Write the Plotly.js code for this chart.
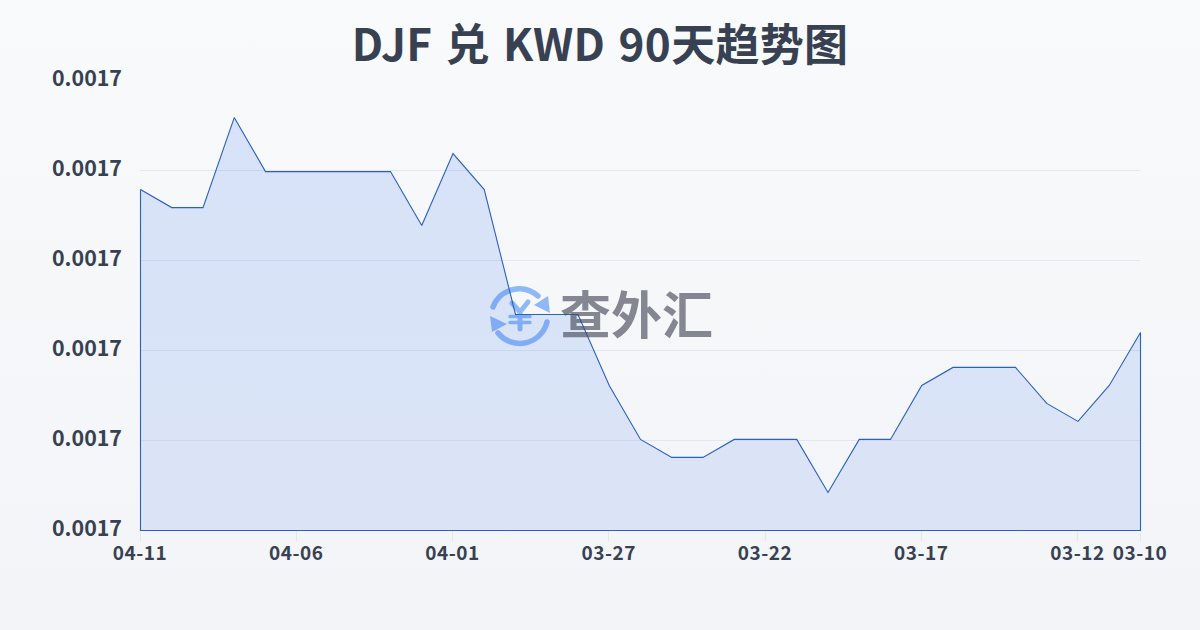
<!DOCTYPE html>
<html>
<head>
<meta charset="utf-8">
<script src="https://cdn.plot.ly/plotly-3.0.1.min.js"></script>
<style>
html,body{margin:0;padding:0;width:1200px;height:630px;overflow:hidden;background:linear-gradient(180deg,#f8fafc 0%,#f2f4f7 100%);}
#c{width:1200px;height:630px;}
.scatterlayer{transform:translate(.5px,.5px);}
#c svg *{clip-path:none !important;}
.xtick text{letter-spacing:.55px;}
.yaxislayer-above{transform:translateY(-1.5px);}
.gtitle{word-spacing:3px;letter-spacing:.3px;}
</style>
</head>
<body>
<div id="c"></div>
<script>
const dates = ["04-11","04-10","04-09","04-08","04-07","04-06","04-05","04-04","04-03","04-02","04-01","03-31","03-30","03-29","03-28","03-27","03-26","03-25","03-24","03-23","03-22","03-21","03-20","03-19","03-18","03-17","03-16","03-15","03-14","03-13","03-12","03-11","03-10"];
const rates = [0.00168894,0.00168794,0.00168794,0.00169294,0.00168994,0.00168994,0.00168994,0.00168994,0.00168994,0.00168694,0.00169094,0.00168894,0.00168200,0.00168200,0.00168200,0.00167806,0.00167506,0.00167406,0.00167406,0.00167506,0.00167506,0.00167506,0.00167211,0.00167506,0.00167506,0.00167806,0.00167906,0.00167906,0.00167906,0.00167706,0.00167606,0.00167806,0.00168100];
const xTicks = ["04-11","04-06","04-01","03-27","03-22","03-17","03-12","03-10"];
const yMin = 0.00167, yMax = 0.001695, yStep = 0.000005;
const titleText = "DJF 兑 KWD 90天趋势图";
const watermark = "查外汇";

const FONT = '"Noto Sans CJK SC",sans-serif';
const logo = `<svg xmlns="http://www.w3.org/2000/svg" width="64" height="64" viewBox="0 0 64 64"><g fill="none" stroke="#8fb8f7" stroke-width="5.5" stroke-linecap="round" stroke-linejoin="round"><path d="M5 24A28 28 0 0 1 50 13"/><path d="M59 39A28 28 0 0 1 10 50"/><path d="M24 20L32 29L40 19M32 29V46" stroke-width="5"/><path d="M22 33.5H42M22 39.5H42" stroke-width="3.5"/></g><path d="M60 13L62 30L46 22Z" fill="#8fb8f7"/><path d="M2 33L19 41L4 49Z" fill="#8fb8f7"/></svg>`;

const outlineX = dates.concat([dates[dates.length-1], dates[0], dates[0]]);
const outlineY = rates.concat([yMin, yMin, rates[0]]);

Plotly.newPlot("c", [{
  type: "scatter", mode: "lines", cliponaxis: false,
  x: outlineX, y: outlineY,
  fill: "toself",
  fillgradient: {type: "vertical", colorscale: [[0, "rgba(37,99,235,0.115)"], [1, "rgba(37,99,235,0.15)"]]},
  line: {width: 0},
  hoverinfo: "skip"
}, {
  type: "scatter", mode: "lines", cliponaxis: false,
  x: outlineX, y: outlineY,
  line: {color: "#2a5fc4", width: 1.1},
  hoverinfo: "skip"
}], {
  width: 1200, height: 630,
  paper_bgcolor: "rgba(0,0,0,0)", plot_bgcolor: "rgba(0,0,0,0)",
  margin: {l: 140, r: 60, t: 80, b: 100},
  showlegend: false,
  title: {text: titleText, x: 0.5, xanchor: "center", y: 0.928, yanchor: "middle",
    font: {family: FONT, size: 44, weight: 700, color: "#374151"}},
  xaxis: {type: "category", categoryorder: "array", categoryarray: dates, range: [0, dates.length-1],
    tickmode: "array", tickvals: xTicks, ticktext: xTicks, showgrid: false, zeroline: false, showline: false,
    ticks: "outside", ticklen: 10, tickcolor: "#e2e8f0", tickwidth: 1, ticklabelstandoff: -4,
    tickfont: {family: FONT, size: 19, weight: 700, color: "#374151"}},
  yaxis: {range: [yMin, yMax], tick0: yMin, dtick: yStep, tickformat: ".4f",
    showgrid: true, gridcolor: "#e2e8f0", gridwidth: 1, zeroline: false, showline: false,
    ticks: "", ticklabelstandoff: 17,
    tickfont: {family: FONT, size: 21.4, weight: 700, color: "#374151"}},
  images: [{source: "data:image/svg+xml;utf8," + encodeURIComponent(logo), xref: "paper", yref: "paper",
    x: (488-140)/1000, y: (530-283)/450, sizex: 64/1000, sizey: 64/450, xanchor: "left", yanchor: "top", layer: "below"}],
  annotations: [{text: watermark, xref: "paper", yref: "paper", x: (636-140)/1000, y: (530-312)/450,
    xanchor: "center", yanchor: "middle", showarrow: false,
    font: {family: '"Noto Sans CJK SC",sans-serif', size: 51, weight: 700, color: "rgba(70,76,90,0.65)"}}]
}, {displayModeBar: false, staticPlot: true});
</script>
</body>
</html>
